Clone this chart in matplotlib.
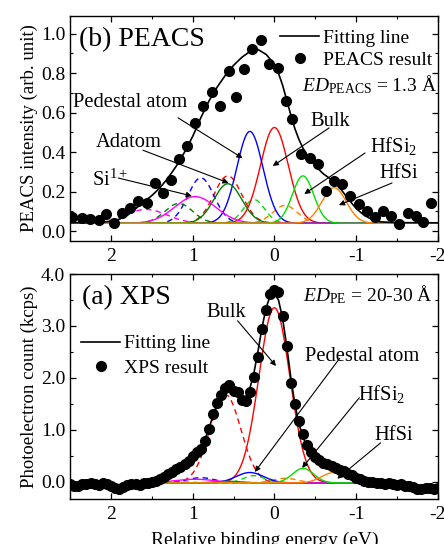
import numpy as np
import matplotlib
matplotlib.use('Agg')
import matplotlib.pyplot as plt
from matplotlib.ticker import MultipleLocator, FormatStrFormatter

plt.rcParams['font.family'] = ['Liberation Serif', 'DejaVu Serif']
plt.rcParams['mathtext.fontset'] = 'custom'
plt.rcParams['mathtext.rm'] = 'Liberation Serif'
plt.rcParams['mathtext.it'] = 'Liberation Serif:italic'

# PEACS result (b)
peacs_x = [2.48, 2.36, 2.26, 2.15, 2.06, 1.96, 1.86, 1.77, 1.67, 1.56, 1.46, 1.36, 1.26, 1.17,
           1.07, 0.97, 0.87, 0.76, 0.66, 0.56, 0.47, 0.37, 0.27, 0.16, 0.06, -0.04, -0.14, -0.22,
           -0.33, -0.43, -0.53, -0.63, -0.73, -0.83, -0.92, -1.03, -1.13, -1.23, -1.33, -1.43,
           -1.52, -1.63, -1.73, -1.82, -1.92]
peacs_y = [0.073, 0.068, 0.061, 0.056, 0.085, 0.042, 0.09, 0.115, 0.152, 0.144, 0.242, 0.194,
           0.259, 0.365, 0.431, 0.547, 0.635, 0.707, 0.635, 0.809, 0.682, 0.821, 0.922, 0.966,
           0.846, 0.826, 0.66, 0.567, 0.391, 0.369, 0.338, 0.205, 0.255, 0.238, 0.178, 0.137,
           0.103, 0.07, 0.103, 0.078, 0.034, 0.09, 0.076, 0.047, 0.144]
peacs_fit_x = [2.5, 2.3, 2.1, 2.0, 1.9, 1.8, 1.7, 1.6, 1.5, 1.4, 1.3, 1.2, 1.1, 1.0, 0.9, 0.8,
               0.7, 0.6, 0.5, 0.4, 0.3, 0.2, 0.1, 0.0, -0.05, -0.1, -0.15, -0.2, -0.25, -0.3,
               -0.35, -0.4, -0.5, -0.6, -0.7, -0.8, -0.9, -1.0, -1.1, -1.2, -1.3, -1.5, -2.0]
peacs_fit_y = [0.042, 0.043, 0.046, 0.05, 0.06, 0.08, 0.113, 0.148, 0.18, 0.22, 0.27, 0.33, 0.40,
               0.48, 0.575, 0.66, 0.73, 0.79, 0.84, 0.88, 0.91, 0.92, 0.895, 0.845, 0.80, 0.74,
               0.665, 0.59, 0.52, 0.465, 0.42, 0.385, 0.33, 0.29, 0.26, 0.22, 0.165, 0.115, 0.08,
               0.058, 0.047, 0.043, 0.042]
peacs_base = 0.04

# fitted components: Bulk, Pedestal atom, Adatom, Si1+, HfSi2, HfSi
comp_colors = ['red', 'blue', '#008000', '#ff00ff', '#00e000', '#ff8000']
comp_width = [0.17, 0.16, 0.17, 0.25, 0.13, 0.15]
peacs_c = [0.0, 0.30, 0.57, 0.97, -0.35, -0.73]
peacs_h = [0.485, 0.465, 0.20, 0.135, 0.24, 0.18]
peacs_dash_c = [0.57, 0.90, 1.17, 1.57, 0.25, -0.13]
peacs_dash_h = [0.24, 0.23, 0.10, 0.07, 0.12, 0.09]

# XPS result (a)
xps_x = np.round(np.arange(2.5, -2.001, -0.05), 2)
xps_y = [-0.05, -0.07, -0.08, -0.05, -0.04, -0.03, -0.04, -0.06, -0.03, -0.04, -0.07, -0.11,
         -0.13, -0.09, -0.06, -0.05, -0.04, -0.06, -0.03, -0.02, -0.01, 0.02, 0.05, 0.10, 0.15,
         0.19, 0.24, 0.29, 0.34, 0.41, 0.49, 0.57, 0.64, 0.78, 1.02, 1.30, 1.52, 1.68, 1.80,
         1.86, 1.75, 1.72, 1.58, 1.56, 1.72, 2.02, 2.40, 2.95, 3.30, 3.62, 3.70, 3.65, 3.20,
         2.62, 1.90, 1.50, 1.18, 0.92, 0.70, 0.58, 0.48, 0.42, 0.37, 0.34, 0.31, 0.27, 0.23,
         0.20, 0.16, 0.13, 0.08, 0.05, 0.02, 0.00, -0.01, -0.02, -0.03, -0.04, -0.03, -0.05,
         -0.06, -0.05, -0.07, -0.08, -0.10, -0.13, -0.14, -0.11, -0.12, -0.14, -0.12]
xps_fit_x = np.round(np.arange(1.35, -1.001, -0.05), 2)
xps_fit_y = [0.08, 0.12, 0.17, 0.22, 0.28, 0.34, 0.41, 0.49, 0.58, 0.68, 0.82, 1.03, 1.28, 1.50,
             1.66, 1.76, 1.80, 1.76, 1.68, 1.62, 1.64, 1.80, 2.10, 2.52, 2.98, 3.36, 3.58, 3.62,
             3.50, 3.15, 2.62, 2.02, 1.50, 1.12, 0.86, 0.68, 0.56, 0.48, 0.42, 0.37, 0.33, 0.30,
             0.26, 0.22, 0.18, 0.14, 0.10, 0.06]
xps_base = -0.02
xps_width = [0.19, 0.17, 0.17, 0.25, 0.13, 0.15]
xps_c = [0.0, 0.30, 0.57, 0.97, -0.35, -0.73]
xps_h = [3.37, 0.20, 0.03, 0.07, 0.28, 0.20]
xps_dash_c = [0.60, 0.90, 1.17, 1.57, 0.25, -0.13]
xps_dash_h = [1.70, 0.10, 0.015, 0.035, 0.14, 0.09]

LABEL_FS = 14.8
LEGEND_FS = 14
TICK_FS = 14
AXLABEL_FS = 13.5


def gauss(x, c, h, s):
    return h * np.exp(-(x - c) ** 2 / (2 * s ** 2))


def style_axes(ax, ymajor, yminor):
    ax.set_xlim(2.5, -2.0)
    ax.xaxis.set_major_locator(MultipleLocator(1))
    ax.xaxis.set_minor_locator(MultipleLocator(0.5))
    ax.yaxis.set_major_locator(MultipleLocator(ymajor))
    ax.yaxis.set_minor_locator(MultipleLocator(yminor))
    ax.yaxis.set_major_formatter(FormatStrFormatter('%.1f'))
    ax.xaxis.set_major_formatter(FormatStrFormatter('%g'))
    ax.tick_params(which='both', direction='in', top=True, right=True, labelsize=TICK_FS)
    ax.tick_params(which='major', length=4.5, width=0.9)
    ax.tick_params(axis='x', which='major', pad=5)
    ax.tick_params(which='minor', length=2.5, width=0.8)
    for sp in ax.spines.values():
        sp.set_linewidth(1.0)


def label(ax, x, y, s):
    ax.text(x, y, s, transform=ax.transAxes, fontsize=LABEL_FS)


def arrow(ax, start, end):
    ax.annotate('', xy=end, xytext=start,
                arrowprops=dict(arrowstyle='-|>', color='k', lw=0.8, mutation_scale=8,
                                shrinkA=0, shrinkB=0))


fig = plt.figure(figsize=(4.44, 5.44), dpi=100)
ax_b = fig.add_axes([0.158, 0.557, 0.828, 0.4136])
ax_a = fig.add_axes([0.158, 0.0827, 0.828, 0.4136])

# ---- (b) PEACS ----
xb = np.linspace(2.5, -2.0, 600)
for c, h, s, col in zip(peacs_dash_c, peacs_dash_h, comp_width, comp_colors):
    ax_b.plot(xb, peacs_base + gauss(xb, c, h, s), color=col, lw=1.0, ls=(0, (4, 3)))
for c, h, s, col in zip(peacs_c, peacs_h, comp_width, comp_colors):
    ax_b.plot(xb, peacs_base + gauss(xb, c, h, s), color=col, lw=1.0)
ax_b.plot(peacs_fit_x, peacs_fit_y, color='k', lw=1.2, label='Fitting line', zorder=4)
ax_b.plot(peacs_x, peacs_y, 'o', color='k', ms=7, ls='none', label='PEACS result', zorder=5)
style_axes(ax_b, 0.2, 0.1)
ax_b.set_ylim(-0.05, 1.09)
ax_b.set_ylabel('PEACS intensity (arb. unit)', fontsize=AXLABEL_FS, labelpad=2)
ax_b.legend(loc='upper left', bbox_to_anchor=(0.572, 0.94), frameon=False, fontsize=LEGEND_FS,
            handlelength=2.0, handletextpad=0.2, labelspacing=0.2, borderpad=0,
            borderaxespad=0)
ax_b.text(0.024, 0.864, '(b) PEACS', transform=ax_b.transAxes, fontsize=20)
ax_b.text(0.63, 0.664, r'$ED_{\mathrm{PEACS}}$ = 1.3 Å', transform=ax_b.transAxes,
          fontsize=LEGEND_FS)

label(ax_b, 0.007, 0.594, 'Pedestal atom')
arrow(ax_b, (1.18, 0.574), (0.39, 0.37))
label(ax_b, 0.655, 0.511, 'Bulk')
arrow(ax_b, (-0.67, 0.523), (0.02, 0.33))
label(ax_b, 0.071, 0.419, 'Adatom')
arrow(ax_b, (1.61, 0.41), (0.56, 0.244))
label(ax_b, 0.06, 0.244, r'Si$^{1+}$')
arrow(ax_b, (1.91, 0.269), (1.01, 0.178))
label(ax_b, 0.815, 0.397, r'HfSi$_2$')
arrow(ax_b, (-1.11, 0.396), (-0.366, 0.188))
label(ax_b, 0.842, 0.28, 'HfSi')
arrow(ax_b, (-1.44, 0.244), (-0.79, 0.132))

# ---- (a) XPS ----
xa = np.linspace(1.35, -1.0, 400)
for c, h, s, col in zip(xps_dash_c, xps_dash_h, xps_width, comp_colors):
    ax_a.plot(xa, xps_base + gauss(xa, c, h, s), color=col, lw=1.0, ls=(0, (4, 3)))
for c, h, s, col in zip(xps_c, xps_h, xps_width, comp_colors):
    ax_a.plot(xa, xps_base + gauss(xa, c, h, s), color=col, lw=1.0)
ax_a.plot(xps_fit_x, xps_fit_y, color='k', lw=1.2, label='Fitting line', zorder=4)
ax_a.plot(xps_x, xps_y, 'o', color='k', ms=7, ls='none', label='XPS result', zorder=5)
style_axes(ax_a, 1.0, 0.5)
ax_a.set_ylim(-0.33, 4.0)
ax_a.set_ylabel('Photoelectron count (kcps)', fontsize=AXLABEL_FS, labelpad=2)
ax_a.set_xlabel('Relative binding energy (eV)', fontsize=14)
ax_a.xaxis.set_label_coords(0.53, -0.147)
ax_a.legend(loc='upper left', bbox_to_anchor=(0.03, 0.73), frameon=False, fontsize=LEGEND_FS,
            handlelength=2.0, handletextpad=0.2, labelspacing=0.35, borderpad=0,
            borderaxespad=0)
ax_a.text(0.033, 0.865, '(a) XPS', transform=ax_a.transAxes, fontsize=20)
ax_a.text(0.633, 0.877, r'$ED_{\mathrm{PE}}$ = 20-30 Å', transform=ax_a.transAxes,
          fontsize=LEGEND_FS)

label(ax_a, 0.371, 0.81, 'Bulk')
arrow(ax_a, (0.45, 3.10), (-0.02, 2.23))
label(ax_a, 0.639, 0.615, 'Pedestal atom')
arrow(ax_a, (-0.80, 2.38), (0.24, 0.19))
label(ax_a, 0.783, 0.44, r'HfSi$_2$')
arrow(ax_a, (-1.04, 1.62), (-0.34, 0.27))
label(ax_a, 0.829, 0.262, 'HfSi')
arrow(ax_a, (-1.30, 0.75), (-0.77, 0.06))

fig.savefig('out.png', dpi=100)
